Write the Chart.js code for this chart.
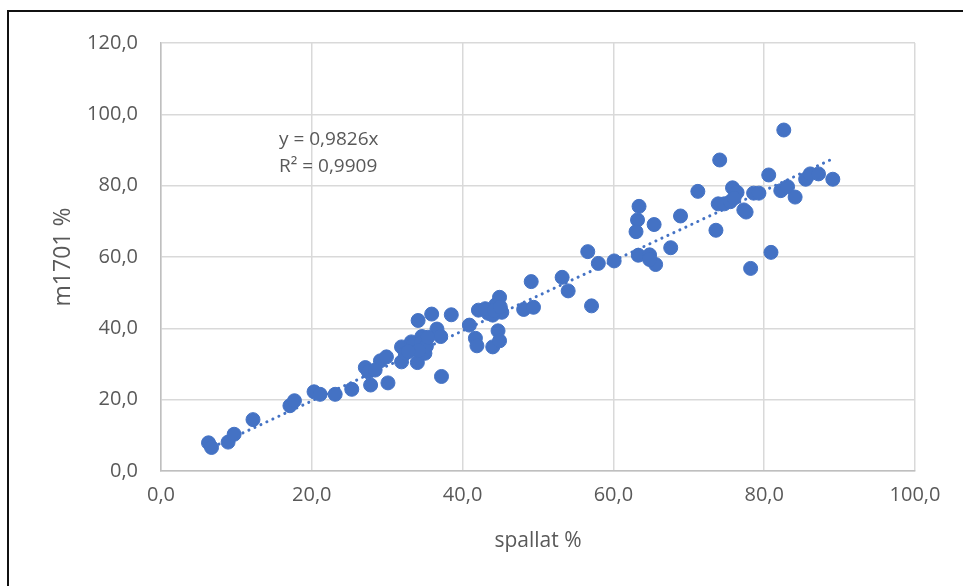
<!DOCTYPE html>
<html>
<head>
<meta charset="utf-8">
<script src="https://cdn.jsdelivr.net/npm/chart.js@4.4.1/dist/chart.umd.min.js"></script>
<style>
  html, body { margin: 0; padding: 0; background: #fff; overflow: hidden; }
  #wrap { position: relative; width: 963px; height: 586px; }
  #ram { position: absolute; left: 7px; top: 10px; width: 1000px; height: 1000px;
         border: 2px solid #111; box-sizing: border-box; pointer-events: none; }
</style>
</head>
<body>
<div id="wrap">
  <canvas id="grafico"></canvas>
  <div id="ram"></div>
</div>
<script>
// ---------------------------------------------------------
// Data (spallat % vs m1701 %)
// ---------------------------------------------------------
const spallat = [
  6.3, 6.7, 8.9, 9.7, 12.2, 17.1, 17.7, 20.3, 21.1, 23.1,
  25.3, 27.1, 27.8, 27.5, 29.1, 29.9, 30.1, 28.4, 31.9, 31.9,
  32.4, 34.0, 34.1, 33.2, 34.6, 34.8, 35.0, 33.7, 35.9, 36.6,
  37.1, 37.2, 38.5, 40.9, 41.7, 41.9, 42.1, 43.4, 44.0, 44.4,
  44.7, 44.9, 44.9, 45.2, 44.0, 48.1, 49.4, 49.1, 53.2, 54.0,
  56.6, 57.1, 58.0, 60.1, 63.4, 63.2, 63.0, 63.3, 64.8, 65.4,
  65.6, 64.8, 67.6, 68.9, 71.2, 73.6, 74.1, 73.9, 74.7, 75.8,
  76.4, 75.5, 77.3, 77.6, 78.2, 78.6, 79.3, 80.6, 80.9, 82.6,
  82.2, 83.1, 84.1, 85.5, 86.1, 87.2, 89.1,
  33.5, 34.5, 35.2, 34.2, 32.8, 35.4, 43.0, 44.2, 45.0, 76.0
];
const m1701 = [
  7.9, 6.6, 8.1, 10.3, 14.4, 18.3, 19.7, 22.2, 21.5, 21.5,
  22.9, 29.0, 24.1, 27.8, 30.9, 32.0, 24.7, 28.3, 34.8, 30.6,
  33.0, 30.4, 42.2, 36.2, 37.7, 34.6, 33.0, 34.1, 44.0, 39.8,
  37.7, 26.5, 43.8, 40.9, 37.2, 35.1, 45.1, 44.2, 34.8, 46.6,
  39.3, 48.7, 36.5, 44.5, 43.7, 45.3, 45.9, 53.1, 54.3, 50.5,
  61.5, 46.3, 58.2, 58.9, 74.2, 70.4, 67.1, 60.5, 60.6, 69.1,
  57.9, 59.3, 62.6, 71.5, 78.4, 67.5, 87.2, 74.9, 74.9, 79.4,
  78.1, 75.5, 73.2, 72.6, 56.8, 77.9, 77.9, 83.0, 61.3, 95.6,
  78.6, 79.7, 76.8, 81.8, 83.3, 83.3, 81.8,
  35.5, 36.0, 35.0, 33.8, 33.5, 37.5, 45.5, 45.0, 46.0, 76.5
];

// linear trend through origin (as printed on the chart)
const inclinacao = 0.9826;
const r2 = 0.9909;
const trendX = [6.1, 89.1];

const xTicks = [0, 20, 40, 60, 80, 100];
const yTicks = [0, 20, 40, 60, 80, 100, 120];

const azul = '#4472C4';
const cinzaTexto = '#595959';
const fonte = '"Open Sans", "Noto Sans", sans-serif';

const pontos = spallat.map((x, i) => ({ x: x, y: m1701[i] }));
const linhaTend = trendX.map(x => ({ x: x, y: x * inclinacao }));

const formato = v => v.toFixed(1).replace('.', ',');

// equation label, drawn as text next to the trend line
const rotuloEquacao = {
  id: 'rotuloEquacao',
  afterDatasetsDraw(chart) {
    const ctx = chart.ctx;
    const area = chart.chartArea;
    ctx.save();
    ctx.fillStyle = cinzaTexto;
    ctx.font = '19px ' + fonte;
    ctx.textBaseline = 'middle';
    ctx.textAlign = 'left';
    const x0 = area.left + 118;
    ctx.fillText('y = ' + String(inclinacao).replace('.', ',') + 'x', x0, 140);
    ctx.fillText('R² = ' + String(r2).replace('.', ','), x0, 167);
    ctx.restore();
  }
};

const ctx = document.getElementById('grafico').getContext('2d');
new Chart(ctx, {
  type: 'scatter',
  data: {
    datasets: [
      {
        data: pontos,
        backgroundColor: azul,
        borderColor: azul,
        borderWidth: 1,
        pointRadius: 7,
        pointHoverRadius: 7,
        order: 1
      },
      {
        type: 'line',
        data: linhaTend,
        borderColor: azul,
        borderWidth: 3,
        borderDash: [0.1, 6.5],
        borderCapStyle: 'round',
        pointRadius: 0,
        fill: false,
        order: 2
      }
    ]
  },
  options: {
    responsive: true,
    maintainAspectRatio: false,
    animation: false,
    events: [],
    layout: { padding: { left: 0, right: 48, top: 43, bottom: 0 } },
    plugins: { legend: { display: false }, tooltip: { enabled: false } },
    scales: {
      x: {
        type: 'linear',
        min: 0, max: 100,
        afterBuildTicks: s => { s.ticks = xTicks.map(v => ({ value: v })); },
        afterFit: s => { s.height = 115; },
        grid: { color: '#d9d9d9', lineWidth: 1.5, drawTicks: false },
        border: { color: '#bfbfbf', width: 1.5 },
        ticks: { color: cinzaTexto, font: { family: fonte, size: 20 }, padding: 12,
                 callback: v => formato(v) },
        title: { display: true, text: 'spallat %', color: cinzaTexto,
                 font: { family: fonte, size: 21 }, padding: { top: 0, bottom: 32 } }
      },
      y: {
        type: 'linear',
        min: 0, max: 120,
        afterBuildTicks: s => { s.ticks = yTicks.map(v => ({ value: v })); },
        afterFit: s => { s.width = 161; },
        grid: { color: '#d9d9d9', lineWidth: 1.5, drawTicks: false },
        border: { color: '#bfbfbf', width: 1.5 },
        ticks: { color: cinzaTexto, font: { family: fonte, size: 20 }, padding: 23,
                 callback: v => formato(v) },
        title: { display: true, text: 'm1701 %', color: cinzaTexto,
                 font: { family: fonte, size: 23 }, padding: { top: 50, bottom: 0 } }
      }
    }
  },
  plugins: [rotuloEquacao]
});
</script>
</body>
</html>
